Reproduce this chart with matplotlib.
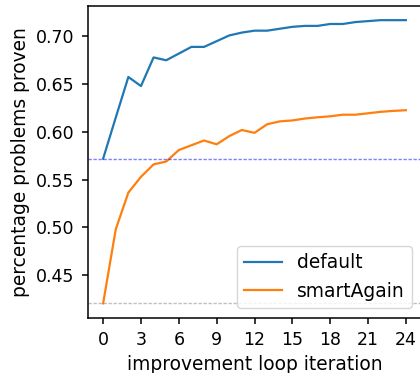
import matplotlib
matplotlib.use("Agg")
import matplotlib.pyplot as plt

iterations = list(range(25))
default = [0.572, 0.615, 0.6575, 0.648, 0.678, 0.675, 0.682, 0.689, 0.689, 0.695,
           0.701, 0.704, 0.706, 0.706, 0.708, 0.710, 0.711, 0.711, 0.713, 0.713,
           0.715, 0.716, 0.717, 0.717, 0.717]
smart_again = [0.4205, 0.498, 0.5365, 0.553, 0.566, 0.569, 0.581, 0.586, 0.591, 0.587,
               0.5956, 0.602, 0.599, 0.608, 0.611, 0.612, 0.614, 0.6153, 0.6163, 0.618,
               0.618, 0.6195, 0.621, 0.622, 0.6227]
baseline_default = 0.572
baseline_smart = 0.4205
xticks = [0, 3, 6, 9, 12, 15, 18, 21, 24]

fig = plt.figure(figsize=(4.2, 3.73), dpi=100)
ax = fig.add_axes([88 / 420, 1 - 317.5 / 373, (421 - 88) / 420, (317.5 - 6) / 373])

ax.plot(iterations, default, color="#1f77b4", label="default", lw=1.6)
ax.plot(iterations, smart_again, color="#ff7f0e", label="smartAgain", lw=1.6)
ax.axhline(baseline_default, color="blue", ls=(0, (2.4, 1.2)), lw=1, alpha=0.5)
ax.axhline(baseline_smart, color="gray", ls=(0, (2.4, 1.2)), lw=1, alpha=0.5)

ax.set_xticks(xticks)
ax.tick_params(labelsize=12.5, length=4.2, pad=5.5, width=1.1)
for s in ax.spines.values():
    s.set_linewidth(1.1)
ax.set_xlabel("improvement loop iteration", fontsize=13.4, labelpad=4.5)
ax.set_ylabel("percentage problems proven", fontsize=13.4, labelpad=4.5)
ax.legend(loc="lower right", fontsize=13.4)

fig.savefig("out.png", dpi=100)
